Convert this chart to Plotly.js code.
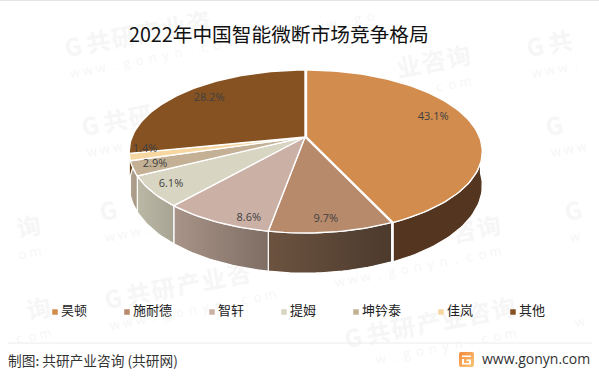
<!DOCTYPE html>
<html><head><meta charset="utf-8">
<script src="https://cdn.plot.ly/plotly-3.0.1.min.js"></script>
<style>html,body{margin:0;padding:0;background:#fff}#c{width:599px;height:376px}</style>
</head><body><div id="c"></div>
<script>
const categories=['昊顿','施耐德','智轩','提姆','坤钤泰','佳岚','其他'];
const shares=[43.1,9.7,8.6,6.1,2.9,1.4,28.2];
const topColors=['#d18c4e','#b88a6c','#cbb0a6','#d9d5c3','#c3b095','#f6d6a1','#865222'];
const wallStart=['#54351f','#6c5340','#a89488','#bcb8a6','#b0a28e','#c8b184','#6c451f'];
const wallEnd=['#54351f','#4c3a2d','#7f6d64','#a8a494','#a69884','#c8b184','#6c451f'];
const labelRadius=[.82,.883,.91,.883,.878,.912,.814];
const labelShift=[-6.5,.8,-8,.5,.3,4.7,2.5];

const title='2022年中国智能微断市场竞争格局';
const source='制图: 共研产业咨询 (共研网)';
const site='www.gonyn.com';
const wmMain=['G','共','研','产','业','咨','询'];
const wmSub=['w','w','w','.','g','o','n','y','n','.','c','o','m'];
const wmStarts=[[65,56],[82,135],[100,220],[105,308],[296,12],[300,95],[315,180],[330,265],[345,347],
                [527,56],[546,135],[565,220],[570,305],[-166,95],[-150,180],[-130,265],[-120,347]];

// pie projection (page pixels as axis units)
const P={cx:305,cy:137,sx:173,sy:78.9,k:.178,h:33};
function proj(deg,r=1,lower=false,dx=0){
  const a=deg*Math.PI/180,u=r*Math.sin(a),v=r*Math.cos(a),w=1+P.k*v;
  return [P.cx+dx+P.sx*u/w, P.cy-P.sy*v/w+(lower?P.h/w:0)];
}
function arc(a,b,lower,dx){
  const n=Math.max(2,Math.ceil(Math.abs(b-a)/1.5)),o=[];
  for(let i=0;i<=n;i++)o.push(proj(a+(b-a)*i/n,1,lower,dx));
  return o;
}
const traces=[],bounds=[];
let cum=0;
shares.forEach(s=>{bounds.push([cum*3.6,(cum+s)*3.6]);cum+=s;});
const offs=[1.5,0,0,0,0,0,0];
// walls
categories.forEach((c,i)=>{
  const a=Math.max(bounds[i][0],92),b=Math.min(bounds[i][1],272);
  if(b<=a)return;
  const up=arc(a,b,false,offs[i]),lo=arc(b,a,true,offs[i]),pts=up.concat(lo,[up[0]]);
  traces.push({type:'scatter',mode:'lines',x:pts.map(p=>p[0]),y:pts.map(p=>p[1]),fill:'toself',
    fillgradient:{type:'horizontal',colorscale:[[0,wallStart[i]],[1,wallEnd[i]]]},
    line:{color:'#ffffff',width:1.2},hoverinfo:'skip',showlegend:false});
});
// tops
categories.forEach((c,i)=>{
  const ctr=[P.cx+offs[i],P.cy],pts=[ctr].concat(arc(bounds[i][0],bounds[i][1],false,offs[i]),[ctr]);
  traces.push({type:'scatter',mode:'lines',name:c,x:pts.map(p=>p[0]),y:pts.map(p=>p[1]),fill:'toself',
    fillcolor:topColors[i],line:{color:'#ffffff',width:1.4},hoverinfo:'skip',showlegend:false});
});
// value labels
const lab=shares.map((s,i)=>proj((bounds[i][0]+bounds[i][1])/2+labelShift[i],labelRadius[i]));
traces.push({type:'scatter',mode:'text',x:lab.map(p=>p[0]),y:lab.map(p=>p[1]),
  text:shares.map(s=>s.toFixed(1)+'%'),textposition:'middle center',
  textfont:{family:'"Open Sans",sans-serif',size:11,color:'#404040'},hoverinfo:'skip',showlegend:false});
// legend row: swatch + name, spaced by name length
let lx=55;const lgx=[];
categories.forEach(c=>{lgx.push(lx);lx+=46+13*c.length;});
traces.push({type:'scatter',mode:'markers',x:lgx,y:lgx.map(()=>312),
  marker:{symbol:'square',size:5.5,color:topColors,line:{width:0}},hoverinfo:'skip',showlegend:false});
traces.push({type:'scatter',mode:'text',x:lgx.map(v=>v+6),y:lgx.map(()=>312),text:categories,textposition:'middle right',
  textfont:{family:'"Noto Sans CJK SC",sans-serif',size:13,color:'#222'},hoverinfo:'skip',showlegend:false});

// faint background watermark, one glyph at a time; glyphs that would be cut by the page or hidden by the pie are left out
const shapes=[];
const ang=-11,ca=Math.cos(ang*Math.PI/180),sa=Math.sin(ang*Math.PI/180);
function glyph(ch,x,y,size,fam,bold,half){
  const m=half+9;
  if(x-m<0||x+m>599||y-m<0||y+m>376)return;
  const ex=(x-305)/184,ey=(y-170)/110;
  if(ex*ex+ey*ey<1)return;
  shapes.push({type:'rect',xref:'x',yref:'y',x0:x-half,x1:x+half,y0:y-half,y1:y+half,layer:'below',
    line:{width:0},fillcolor:'rgba(0,0,0,0)',
    label:{text:ch,textangle:ang,textposition:'middle center',
      font:{family:fam,size:size,color:'#f6f6f6',weight:bold?700:400}}});
}
wmStarts.forEach(q=>{
  wmMain.forEach((ch,i)=>glyph(ch,q[0]+(9+i*25.5)*ca,q[1]+(9+i*25.5)*sa-5,24,'"Noto Sans CJK SC",sans-serif',true,13));
  wmSub.forEach((ch,i)=>glyph(ch,q[0]+(8+i*13.2)*ca+2,q[1]+(8+i*13.2)*sa+19,13,'"Open Sans",sans-serif',false,7));
});
shapes.push({type:'line',xref:'x',yref:'y',x0:8,x1:592,y0:343,y1:343,line:{color:'#ececec',width:1},layer:'below'});
shapes.push({type:'line',xref:'x',yref:'y',x0:0,x1:599,y0:0.5,y1:0.5,line:{color:'#e4e4e4',width:1},layer:'below'});

const logo='data:image/svg+xml;utf8,'+encodeURIComponent('<svg xmlns="http://www.w3.org/2000/svg" width="15" height="15"><defs><linearGradient id="g" x1="0" y1="0" x2="1" y2="1"><stop offset="0" stop-color="#f38a3c"/><stop offset="1" stop-color="#fbc77a"/></linearGradient></defs><rect width="15" height="15" rx="2" fill="url(#g)"/><path d="M3 5h9v-1.6h-9zM3 7h2v4h5v-2h-2.5v-1.6h4.5v5h-9z" fill="#fff"/></svg>');

Plotly.newPlot('c',traces,{
  width:599,height:376,margin:{l:0,r:0,t:0,b:0},paper_bgcolor:'#fff',plot_bgcolor:'#fff',showlegend:false,
  xaxis:{range:[0,599],visible:false,fixedrange:true},
  yaxis:{range:[376,0],visible:false,fixedrange:true},
  shapes,
  images:[{source:logo,xref:'x',yref:'y',x:459,y:352,sizex:15,sizey:15,sizing:'stretch',xanchor:'left',yanchor:'top',layer:'above'}],
  annotations:[
    {text:title,xref:'x',yref:'y',x:278.5,y:33,showarrow:false,xanchor:'center',yanchor:'middle',
     font:{family:'"Noto Sans CJK SC",sans-serif',size:19.7,color:'#111'}},
    {text:source,xref:'x',yref:'y',x:8,xshift:-2,y:360,showarrow:false,xanchor:'left',yanchor:'middle',
     font:{family:'"Noto Sans CJK SC",sans-serif',size:13.7,color:'#333'}},
    {text:site,xref:'x',yref:'y',x:592,y:358,showarrow:false,xanchor:'right',yanchor:'middle',
     font:{family:'"Open Sans",sans-serif',size:14,color:'#333'}}
  ]
},{staticPlot:true,displayModeBar:false});
</script></body></html>
